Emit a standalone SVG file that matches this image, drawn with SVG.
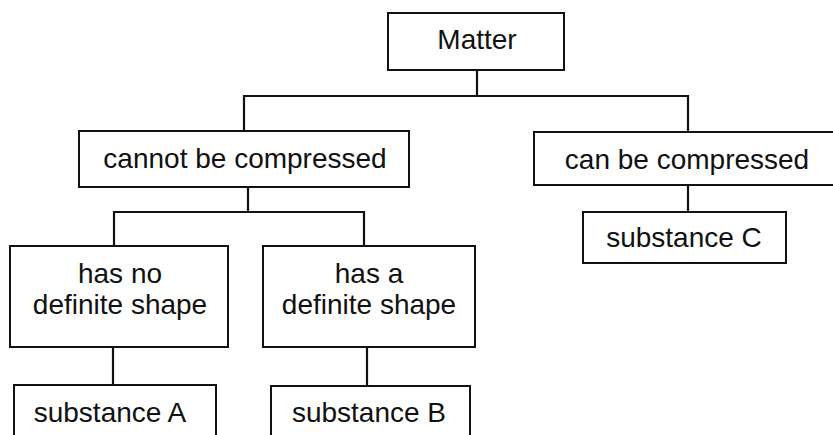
<svg xmlns="http://www.w3.org/2000/svg" width="833" height="435" viewBox="0 0 833 435">
  <style>
    .box { fill: #ffffff; stroke: #111111; stroke-width: 2; }
    .lbl { font-family: "Liberation Sans", Arial, sans-serif; font-size: 28px; fill: #111111; text-anchor: middle; }
    .conn { fill: none; stroke: #111111; stroke-width: 2.2; }
  </style>
  <rect width="833" height="435" fill="#ffffff"/>
  <g id="connectors">
    <path class="conn" d="M477 70 V96"/>
    <path class="conn" d="M244 131 V96 H688 V132"/>
    <path class="conn" d="M248 187 V212"/>
    <path class="conn" d="M114 246 V212 H364 V246"/>
    <path class="conn" d="M688 185 V212"/>
    <path class="conn" d="M113 347 V385"/>
    <path class="conn" d="M367 347 V386"/>
  </g>
  <g id="matter">
    <rect class="box" x="388" y="13" width="176" height="57"/>
    <text class="lbl" x="477" y="49">Matter</text>
  </g>
  <g id="cannot-compress">
    <rect class="box" x="79" y="131" width="330" height="56"/>
    <text class="lbl" x="245" y="168">cannot be compressed</text>
  </g>
  <g id="can-compress">
    <rect class="box" x="534" y="132" width="310" height="53"/>
    <text class="lbl" x="687" y="169">can be compressed</text>
  </g>
  <g id="substance-c">
    <rect class="box" x="583" y="212" width="203" height="51"/>
    <text class="lbl" x="684" y="247">substance C</text>
  </g>
  <g id="no-shape">
    <rect class="box" x="10" y="246" width="218" height="101"/>
    <text class="lbl" x="120" y="283">has no</text>
    <text class="lbl" x="120" y="314">definite shape</text>
  </g>
  <g id="def-shape">
    <rect class="box" x="263" y="246" width="212" height="101"/>
    <text class="lbl" x="369" y="283">has a</text>
    <text class="lbl" x="369" y="314">definite shape</text>
  </g>
  <g id="substance-a">
    <rect class="box" x="14" y="385" width="202" height="60"/>
    <text class="lbl" x="110" y="422">substance A</text>
  </g>
  <g id="substance-b">
    <rect class="box" x="271" y="386" width="199" height="60"/>
    <text class="lbl" x="369" y="422">substance B</text>
  </g>
</svg>
